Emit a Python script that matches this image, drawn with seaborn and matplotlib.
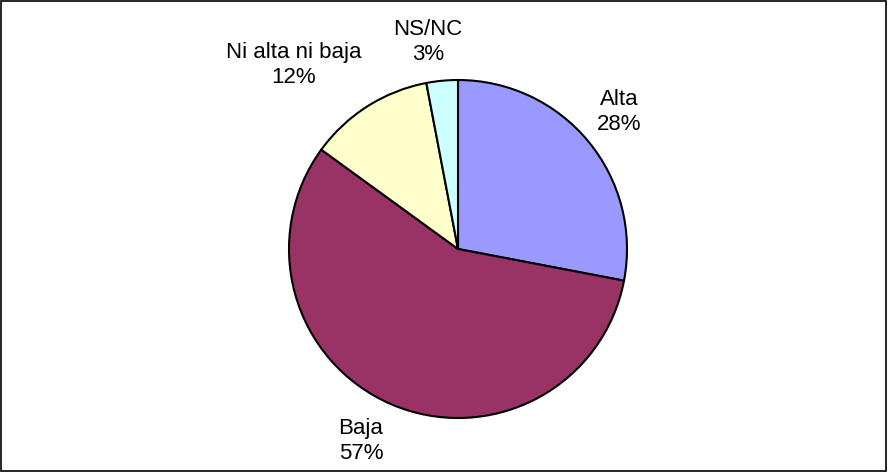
import matplotlib
matplotlib.use("Agg")
import matplotlib.pyplot as plt
import seaborn as sns
from matplotlib.patches import Rectangle

# Data
categories = ['Alta', 'Baja', 'Ni alta ni baja', 'NS/NC']
percentages = [28, 57, 12, 3]
colors = ['#9999FF', '#993366', '#FFFFCC', '#CCFFFF']

sns.set_theme(style="white")
plt.rcParams['font.family'] = ['Liberation Sans', 'DejaVu Sans']

fig = plt.figure(figsize=(8.88, 4.72), dpi=100)
ax = fig.add_axes([0, 0, 1, 1])

# pie in pixel-like coordinates
cx, cy, r = 458, 223, 169
wedges, _ = ax.pie(percentages, colors=colors, startangle=90, counterclock=False,
                   center=(cx, cy), radius=r, frame=True,
                   wedgeprops=dict(edgecolor='black', linewidth=1.5))
ax.set_xlim(0, 888)
ax.set_ylim(0, 472)
ax.set_aspect('equal')
ax.axis('off')

# label positions (pixels from top-left)
label_pos = [(619, 112), (361, 441), (294, 65), (428, 42)]
for name, pct, (x, y) in zip(categories, percentages, label_pos):
    ax.text(x, 472 - y, f'{name}\n{pct}%', ha='center', va='center',
            fontsize=16, color='black', linespacing=1.3)

# outer frame
fig.patches.append(Rectangle((0.001, 0.002), 0.997, 0.996, transform=fig.transFigure,
                             fill=False, edgecolor='black', linewidth=1.2))

fig.savefig('out.png', dpi=100, facecolor='white')
